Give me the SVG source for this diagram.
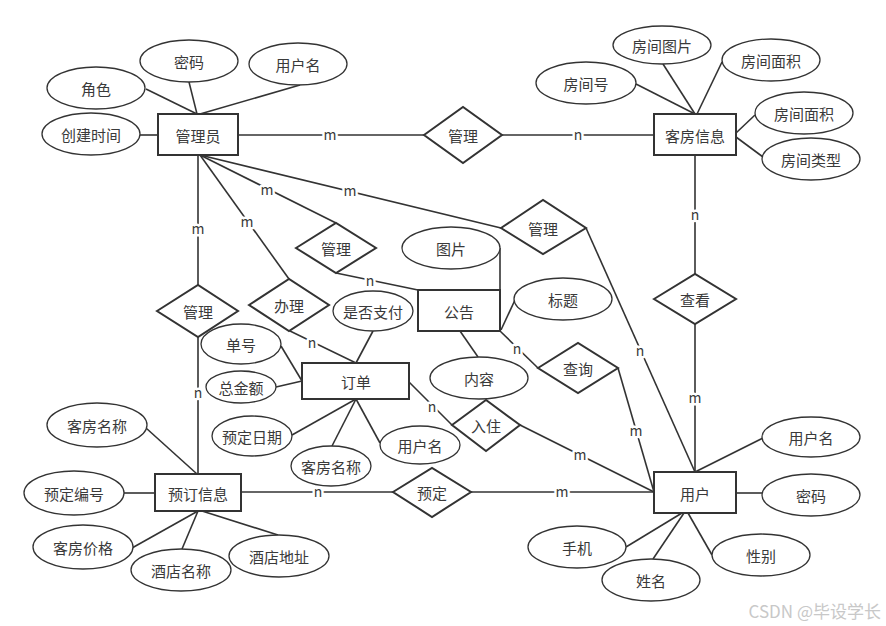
<svg xmlns="http://www.w3.org/2000/svg" width="886" height="626" viewBox="0 0 886 626">
<style>
text{font-family:"Noto Sans CJK SC","Liberation Sans",sans-serif;font-size:15px;fill:#3a3a3a;text-anchor:middle;dominant-baseline:central}
.ent rect{fill:#fff;stroke:#333;stroke-width:2}
.rel polygon{fill:#fff;stroke:#333;stroke-width:2}
.attr ellipse{fill:#fff;stroke:#333;stroke-width:1.3}
#connectors line{stroke:#333;stroke-width:1.6}
.lab{font-size:14px;stroke:#fff;stroke-width:5;paint-order:stroke;stroke-linejoin:round}
.wm{font-size:17px;fill:#c8c8c8;text-anchor:end}
</style>
<rect width="886" height="626" fill="#fff"/>
<g id="connectors">
<line x1="146" y1="89" x2="197" y2="114"/>
<line x1="189" y1="82" x2="197" y2="114"/>
<line x1="300" y1="85" x2="200" y2="114"/>
<line x1="140" y1="135" x2="158" y2="135"/>
<line x1="238" y1="135" x2="424" y2="135"/>
<line x1="502" y1="135" x2="654" y2="135"/>
<line x1="198" y1="155" x2="198" y2="285"/>
<line x1="200" y1="155" x2="289" y2="279"/>
<line x1="200" y1="155" x2="336" y2="223"/>
<line x1="200" y1="155" x2="501" y2="228"/>
<line x1="198" y1="337" x2="198" y2="474"/>
<line x1="290" y1="331" x2="356" y2="363"/>
<line x1="336" y1="273" x2="418" y2="290"/>
<line x1="586" y1="228" x2="695" y2="472"/>
<line x1="500" y1="331" x2="538" y2="368"/>
<line x1="618" y1="368" x2="654" y2="492"/>
<line x1="695" y1="155" x2="695" y2="274"/>
<line x1="695" y1="324" x2="695" y2="472"/>
<line x1="409" y1="382" x2="452" y2="425"/>
<line x1="520" y1="425" x2="654" y2="492"/>
<line x1="241" y1="492" x2="393" y2="492"/>
<line x1="471" y1="492" x2="654" y2="492"/>
<line x1="500" y1="248" x2="500" y2="290"/>
<line x1="515" y1="300" x2="501" y2="330"/>
<line x1="460" y1="331" x2="478" y2="357"/>
<line x1="281" y1="346" x2="302" y2="381"/>
<line x1="276" y1="387" x2="302" y2="381"/>
<line x1="373" y1="331" x2="356" y2="363"/>
<line x1="356" y1="399" x2="292" y2="435"/>
<line x1="356" y1="399" x2="332" y2="446"/>
<line x1="356" y1="399" x2="380" y2="443"/>
<line x1="636" y1="84" x2="695" y2="114"/>
<line x1="663" y1="64" x2="695" y2="114"/>
<line x1="722" y1="62" x2="697" y2="114"/>
<line x1="755" y1="115" x2="736" y2="133"/>
<line x1="763" y1="157" x2="736" y2="137"/>
<line x1="146" y1="428" x2="197" y2="474"/>
<line x1="124" y1="493" x2="155" y2="493"/>
<line x1="132" y1="548" x2="198" y2="511"/>
<line x1="182" y1="549" x2="198" y2="511"/>
<line x1="278" y1="535" x2="202" y2="511"/>
<line x1="763" y1="438" x2="695" y2="472"/>
<line x1="736" y1="493" x2="762" y2="493"/>
<line x1="626" y1="547" x2="682" y2="513"/>
<line x1="653" y1="559" x2="684" y2="513"/>
<line x1="712" y1="555" x2="688" y2="513"/>
<text class="lab" x="330" y="134">m</text>
<text class="lab" x="578" y="134">n</text>
<text class="lab" x="198" y="228">m</text>
<text class="lab" x="247" y="221">m</text>
<text class="lab" x="267" y="189">m</text>
<text class="lab" x="350" y="190">m</text>
<text class="lab" x="198" y="392">n</text>
<text class="lab" x="312" y="342">n</text>
<text class="lab" x="370" y="280">n</text>
<text class="lab" x="640" y="350">n</text>
<text class="lab" x="517" y="348">n</text>
<text class="lab" x="636" y="430">m</text>
<text class="lab" x="695" y="214">n</text>
<text class="lab" x="695" y="397">m</text>
<text class="lab" x="432" y="406">n</text>
<text class="lab" x="580" y="454">m</text>
<text class="lab" x="318" y="491">n</text>
<text class="lab" x="562" y="491">m</text>
</g>
<g id="e-admin" class="ent"><rect x="158" y="114" width="80" height="41"/><text x="198" y="135">管理员</text></g>
<g id="e-room" class="ent"><rect x="654" y="114" width="82" height="41"/><text x="695" y="135">客房信息</text></g>
<g id="e-notice" class="ent"><rect x="418" y="290" width="82" height="41"/><text x="459" y="311">公告</text></g>
<g id="e-order" class="ent"><rect x="302" y="363" width="107" height="36"/><text x="356" y="381">订单</text></g>
<g id="e-booking" class="ent"><rect x="155" y="474" width="86" height="37"/><text x="198" y="493">预订信息</text></g>
<g id="e-user" class="ent"><rect x="654" y="472" width="82" height="41"/><text x="695" y="493">用户</text></g>
<g id="r-manage1" class="rel"><polygon points="424,135 463,107 502,135 463,163"/><text x="463" y="135">管理</text></g>
<g id="r-manage2" class="rel"><polygon points="501,228 543,200 586,228 543,254"/><text x="543" y="228">管理</text></g>
<g id="r-view" class="rel"><polygon points="654,299 695,274 736,299 695,324"/><text x="695" y="299">查看</text></g>
<g id="r-manage3" class="rel"><polygon points="296,248 336,223 376,248 336,273"/><text x="336" y="248">管理</text></g>
<g id="r-handle" class="rel"><polygon points="249,305 289,279 329,305 289,331"/><text x="289" y="305">办理</text></g>
<g id="r-manage4" class="rel"><polygon points="157,311 198,285 238,311 198,337"/><text x="198" y="311">管理</text></g>
<g id="r-query" class="rel"><polygon points="538,368 578,343 618,368 578,393"/><text x="578" y="368">查询</text></g>
<g id="r-checkin" class="rel"><polygon points="452,425 486,400 520,425 486,451"/><text x="486" y="425">入住</text></g>
<g id="r-reserve" class="rel"><polygon points="393,492 432,468 471,492 432,517"/><text x="432" y="492">预定</text></g>
<g id="a-role" class="attr"><ellipse cx="96" cy="88" rx="49" ry="21"/><text x="96" y="88">角色</text></g>
<g id="a-pwd1" class="attr"><ellipse cx="189" cy="61" rx="49" ry="21"/><text x="189" y="61">密码</text></g>
<g id="a-uname1" class="attr"><ellipse cx="298" cy="64" rx="49" ry="21"/><text x="298" y="64">用户名</text></g>
<g id="a-ctime" class="attr"><ellipse cx="91" cy="134" rx="49" ry="21"/><text x="91" y="134">创建时间</text></g>
<g id="a-rpic" class="attr"><ellipse cx="662" cy="45" rx="49" ry="19"/><text x="662" y="45">房间图片</text></g>
<g id="a-rarea1" class="attr"><ellipse cx="771" cy="60" rx="49" ry="21"/><text x="771" y="60">房间面积</text></g>
<g id="a-rno" class="attr"><ellipse cx="586" cy="83" rx="50" ry="21"/><text x="586" y="83">房间号</text></g>
<g id="a-rarea2" class="attr"><ellipse cx="804" cy="113" rx="49" ry="21"/><text x="804" y="113">房间面积</text></g>
<g id="a-rtype" class="attr"><ellipse cx="811" cy="159" rx="49" ry="21"/><text x="811" y="159">房间类型</text></g>
<g id="a-pic" class="attr"><ellipse cx="451" cy="248" rx="49" ry="21"/><text x="451" y="248">图片</text></g>
<g id="a-title" class="attr"><ellipse cx="563" cy="299" rx="49" ry="21"/><text x="563" y="299">标题</text></g>
<g id="a-content" class="attr"><ellipse cx="479" cy="378" rx="49" ry="21"/><text x="479" y="378">内容</text></g>
<g id="a-paid" class="attr"><ellipse cx="373" cy="311" rx="40" ry="20"/><text x="373" y="311">是否支付</text></g>
<g id="a-ono" class="attr"><ellipse cx="241" cy="344" rx="40" ry="20"/><text x="241" y="344">单号</text></g>
<g id="a-total" class="attr"><ellipse cx="241" cy="387" rx="35" ry="16"/><text x="241" y="387">总金额</text></g>
<g id="a-rdate" class="attr"><ellipse cx="252" cy="436" rx="40" ry="20"/><text x="252" y="436">预定日期</text></g>
<g id="a-rname2" class="attr"><ellipse cx="331" cy="466" rx="40" ry="20"/><text x="331" y="466">客房名称</text></g>
<g id="a-uname2" class="attr"><ellipse cx="420" cy="445" rx="40" ry="19"/><text x="420" y="445">用户名</text></g>
<g id="a-rname1" class="attr"><ellipse cx="97" cy="425" rx="50" ry="22"/><text x="97" y="425">客房名称</text></g>
<g id="a-bno" class="attr"><ellipse cx="74" cy="493" rx="50" ry="22"/><text x="74" y="493">预定编号</text></g>
<g id="a-price" class="attr"><ellipse cx="83" cy="547" rx="50" ry="22"/><text x="83" y="547">客房价格</text></g>
<g id="a-hname" class="attr"><ellipse cx="181" cy="570" rx="50" ry="21"/><text x="181" y="570">酒店名称</text></g>
<g id="a-haddr" class="attr"><ellipse cx="279" cy="556" rx="50" ry="21"/><text x="279" y="556">酒店地址</text></g>
<g id="a-uname3" class="attr"><ellipse cx="811" cy="437" rx="49" ry="20"/><text x="811" y="437">用户名</text></g>
<g id="a-pwd2" class="attr"><ellipse cx="811" cy="495" rx="49" ry="21"/><text x="811" y="495">密码</text></g>
<g id="a-phone" class="attr"><ellipse cx="577" cy="547" rx="49" ry="21"/><text x="577" y="547">手机</text></g>
<g id="a-name" class="attr"><ellipse cx="651" cy="580" rx="49" ry="21"/><text x="651" y="580">姓名</text></g>
<g id="a-gender" class="attr"><ellipse cx="761" cy="555" rx="49" ry="21"/><text x="761" y="555">性别</text></g>
<text class="wm" x="881" y="610">CSDN @毕设学长</text>
</svg>
